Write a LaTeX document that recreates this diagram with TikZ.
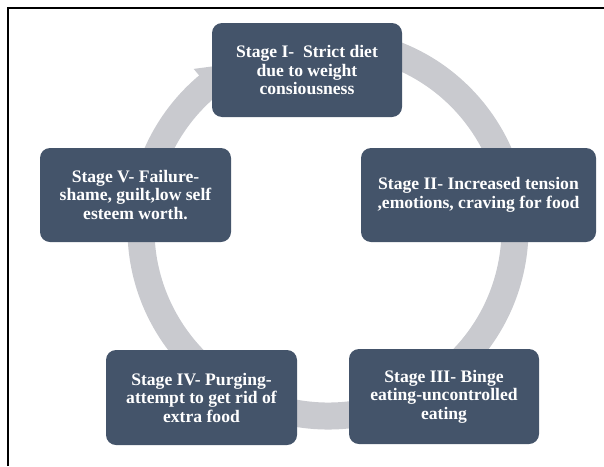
\documentclass[tikz,border=0pt]{standalone}
\usepackage{fontspec}
\setmainfont{Liberation Serif}
\usetikzlibrary{calc}
\definecolor{ringgray}{RGB}{201,202,207}
\definecolor{boxblue}{RGB}{68,84,106}
\begin{document}
\begin{tikzpicture}[x=1pt,y=-1pt,
  stagebox/.style={fill=boxblue, rounded corners=10pt, text=white, align=center,
    inner sep=0pt, font=\fontsize{17.6}{18.5}\selectfont\bfseries},
  ring/.style={ringgray, line width=27pt}]
\useasboundingbox (0,0) rectangle (604,466);
% frame
\draw[line width=2pt] (7.5,466) -- (7.5,7.5) -- (604,7.5);
% cycle ring
\coordinate (C) at (328,229);
\draw[ring] ($(C)+(-80:187)$) arc[start angle=-80, end angle=230.5, radius=187];
\fill[ringgray] ($(C)+(230:165)$) -- ($(C)+(230:209)$) -- ($(C)+(243:187)$) -- cycle;
% stages
\node[stagebox, minimum width=190pt, minimum height=94pt] (s1) at (307,70)
  {Stage I-\ \ Strict diet\\due to weight\\consiousness};
\node[stagebox, minimum width=235pt, minimum height=94pt] (s2) at (478.5,195)
  {Stage II- Increased tension\\,emotions, craving for food};
\node[stagebox, minimum width=190pt, minimum height=95pt] (s3) at (444,396.5)
  {Stage III- Binge\\eating-uncontrolled\\eating};
\node[stagebox, minimum width=191pt, minimum height=95pt] (s4) at (201.5,397.5)
  {Stage IV- Purging-\\attempt to get rid of\\extra food};
\node[stagebox, minimum width=191pt, minimum height=94pt] (s5) at (135.5,195)
  {Stage V- Failure-\\shame, guilt,low self\\esteem worth.};
\end{tikzpicture}
\end{document}
